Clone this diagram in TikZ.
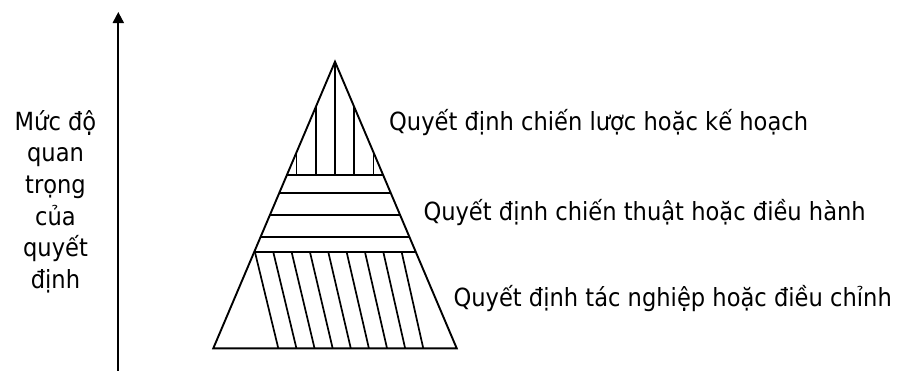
\documentclass[tikz,border=0pt]{standalone}
\usepackage{fontspec}
\setmainfont{DejaVu Sans}[FakeStretch=0.904]
\usetikzlibrary{arrows.meta,calc}
\begin{document}
\begin{tikzpicture}[x=1pt,y=-1pt,
  edge/.style={line width=1.9pt, line join=miter},
  hatch/.style={line width=1.7pt},
  lbl/.style={font=\fontsize{25pt}{31.6pt}\selectfont, inner sep=0pt}]
\useasboundingbox (0,0) rectangle (913,370);
% axis arrow
\coordinate (axb) at (118.3,372);
\coordinate (axt) at (118.3,12);
\draw[line width=2pt, -{Triangle[width=11pt,length=11pt]}] (axb) -- (axt);
\node[lbl, align=center, anchor=north] (axlbl) at (55.5,110) {Mức độ\\quan\\trọng\\của\\quyết\\định};
% pyramid
\coordinate (A) at (335,61.7);
\coordinate (L) at (213.3,348.3);
\coordinate (R) at (456.7,348.3);
% top vertical hatching
\foreach \dx/\yt in {-38.5/152.3, -18.8/106.0, 0/61.7, 18.8/106.0, 38.5/152.3} {
  \draw[hatch] (335+\dx,\yt) -- (335+\dx,175);
}
% horizontal lines
\foreach \t in {0.3953,0.4592,0.5349,0.6127,0.6650} {
  \draw[hatch] ($(A)!\t!(L)$) -- ($(A)!\t!(R)$);
}
% slanted hatching
\foreach \i in {0,...,8} {
  \draw[hatch] (255+18.34*\i,252.3) -- (278.3+18.12*\i,348.3);
}
\draw[edge] (A) -- (L) -- (R) -- cycle;
% labels
\node[lbl, anchor=base west] (l1) at (389,130) {Quyết định chiến lược hoặc kế hoạch};
\node[lbl, anchor=base west] (l2) at (423.3,220) {Quyết định chiến thuật hoặc điều hành};
\node[lbl, anchor=base west] (l3) at (453.3,306.7) {Quyết định tác nghiệp hoặc điều chỉnh};
\end{tikzpicture}
\end{document}
